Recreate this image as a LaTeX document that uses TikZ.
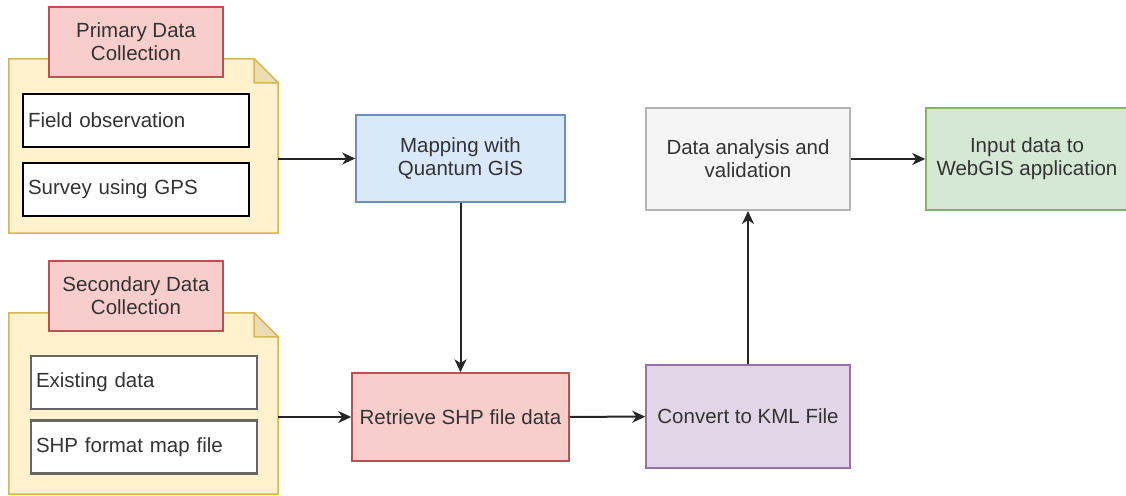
\documentclass[tikz,border=0pt]{standalone}
\usepackage{fontspec}
\setmainfont{Liberation Sans}
\usetikzlibrary{arrows.meta}

\definecolor{notefill}{HTML}{FFF2CC}
\definecolor{notedraw}{HTML}{D6B656}
\definecolor{notefold}{HTML}{EBDDB5}
\definecolor{redfill}{HTML}{F8CECC}
\definecolor{reddraw}{HTML}{B85450}
\definecolor{bluefill}{HTML}{DAE8FC}
\definecolor{bluedraw}{HTML}{6C8EBF}
\definecolor{greyfill}{HTML}{F5F5F5}
\definecolor{greydraw}{HTML}{B3B3B3}
\definecolor{greenfill}{HTML}{D5E8D4}
\definecolor{greendraw}{HTML}{82B366}
\definecolor{purplefill}{HTML}{E1D5E7}
\definecolor{purpledraw}{HTML}{9673A6}
\definecolor{txt}{HTML}{333333}

\begin{document}
\begin{tikzpicture}[x=1pt, y=-1pt, font=\fontsize{20.5}{23}\selectfont, text=txt,
    procbox/.style={draw, line width=1.5pt, align=center, inner sep=4pt},
    headbox/.style={procbox, draw=reddraw, fill=redfill, minimum width=174pt, minimum height=70pt},
    itembox/.style={draw=black, line width=1.5pt, fill=white, text width=216pt, inner xsep=5pt, minimum height=53pt, align=left},
    olditem/.style={itembox, draw=black!60, line width=2.5pt},
    notebox/.style={minimum width=269pt, inner sep=0pt},
    flow/.style={-{Stealth[length=13pt,width=12pt,inset=4pt]}, line width=2pt, draw=black!85}]
        \useasboundingbox (0,0) rectangle (1126,495);

        % folded notes behind the two collection groups
        \node[notebox, minimum height=174pt] (prim) at (143.5,146) {};
        \node[notebox, minimum height=181pt] (sec) at (143.5,403.5) {};
        \foreach \n in {prim,sec} {
            \draw[notedraw, fill=notefill, line width=1.5pt] (\n.north west) -- ([xshift=-24pt]\n.north east)
                -- ([yshift=-24pt]\n.north east) -- (\n.south east) -- (\n.south west) -- cycle;
            \draw[notedraw, fill=notefold, line width=1.5pt, line join=round] ([xshift=-24pt]\n.north east)
                -- ([xshift=-24pt,yshift=-24pt]\n.north east) -- ([yshift=-24pt]\n.north east) -- cycle;
        }

        \node[headbox] (primhead) at (136,42) {Primary Data\\Collection};
        \node[itembox] (field) at (136,120.5) {Field observation};
        \node[itembox] (survey) at (136,189.5) {Survey using GPS};

        \node[headbox] (sechead) at (136,296) {Secondary Data\\Collection};
        \node[olditem] (exist) at (144,382.5) {Existing data};
        \node[olditem] (shpmap) at (144,447) {SHP format map file};

        % processing steps
        \node[procbox, draw=bluedraw, fill=bluefill, minimum width=209pt, minimum height=87pt] (qgis) at (460.5,158.5) {Mapping with\\Quantum GIS};
        \node[procbox, draw=reddraw, fill=redfill, minimum width=217pt, minimum height=88pt] (retrieve) at (460.5,417) {Retrieve SHP file data};
        \node[procbox, draw=purpledraw, fill=purplefill, minimum width=204pt, minimum height=103pt] (kml) at (748,416.5) {Convert to KML File};
        \node[procbox, draw=greydraw, fill=greyfill, line width=2pt, minimum width=204pt, minimum height=102pt] (analysis) at (748,159) {Data analysis and\\validation};
        \node[procbox, draw=greendraw, fill=greenfill, minimum width=202pt, minimum height=102pt] (webgis) at (1027,159) {Input data to\\WebGIS application};

        \draw[flow] (prim.east |- qgis.west) -- (qgis.west);
        \draw[flow] (sec.east |- retrieve.west) -- (retrieve.west);
        \draw[flow] (qgis) -- (retrieve);
        \draw[flow] (retrieve) -- (kml);
        \draw[flow] (kml) -- (analysis);
        \draw[flow] (analysis) -- (webgis);
\end{tikzpicture}
\end{document}
